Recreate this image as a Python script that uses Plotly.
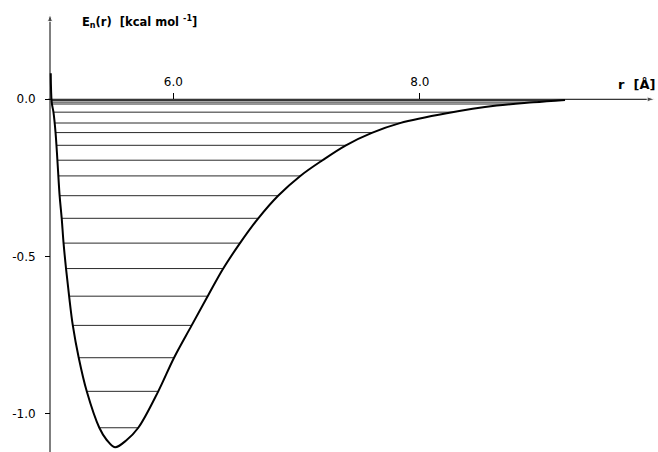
import numpy as np
import plotly.graph_objects as go

# Potential curve E(r): left (repulsive) branch and right (attractive) branch
left_r = [5.006, 5.014, 5.028, 5.045, 5.060, 5.078, 5.095, 5.110, 5.130, 5.155,
          5.185, 5.233, 5.298, 5.400, 5.460, 5.527]
left_E = [0.083, -0.010, -0.041, -0.106, -0.194, -0.307, -0.379, -0.458, -0.539, -0.627,
          -0.720, -0.823, -0.930, -1.046, -1.085, -1.108]
right_r = [5.527, 5.622, 5.716, 5.878, 6.006, 6.149, 6.279, 6.405, 6.541, 6.689,
           6.850, 7.030, 7.210, 7.400, 7.610, 7.838, 8.217, 8.623, 8.920, 9.177]
right_E = [-1.108, -1.085, -1.046, -0.930, -0.823, -0.720, -0.627, -0.539, -0.458, -0.379,
           -0.307, -0.244, -0.194, -0.1465, -0.107, -0.076, -0.0446, -0.020, -0.0096, -0.002]

# Vibrational energy levels E_n
levels = [-0.004, -0.009, -0.015, -0.041, -0.0755, -0.106, -0.1465, -0.194, -0.244,
          -0.307, -0.379, -0.458, -0.539, -0.627, -0.720, -0.823, -0.930, -1.046]

x_ticks = [6.0, 8.0]
x_tick_text = ["6.0", "8.0"]
y_ticks = [0.0, -0.5, -1.0]
y_tick_text = ["0.0", "-0.5", "-1.0"]

X_RANGE = [4.5945, 9.931]
Y_RANGE = [-1.1232, 0.3162]
R_AXIS = 5.0

curve_r = left_r + right_r[1:]
curve_E = left_E + right_E[1:]

# level endpoints from curve
lE = np.array(left_E[::-1]); lR = np.array(left_r[::-1])
rE = np.array(right_E); rR = np.array(right_r)
lx, ly = [], []
for e in levels:
    a = float(np.interp(e, lE, lR))
    b = float(np.interp(e, rE, rR))
    lx += [a, b, None]
    ly += [e, e, None]

FONT = "DejaVu Sans, Arial, sans-serif"

fig = go.Figure()
fig.add_trace(go.Scatter(x=lx, y=ly, mode="lines",
                         line=dict(color="#2a2a2a", width=1), hoverinfo="skip"))
fig.add_trace(go.Scatter(x=curve_r, y=curve_E, mode="lines",
                         line=dict(color="black", width=2, shape="spline", smoothing=1.0),
                         hoverinfo="skip"))

# axis lines with arrowheads
fig.add_trace(go.Scatter(x=[4.984, 9.905], y=[0, 0], mode="lines+markers",
                         line=dict(color="black", width=1),
                         marker=dict(symbol="arrow", size=[0, 8], angleref="previous",
                                     color="black"),
                         cliponaxis=False, hoverinfo="skip"))
fig.add_trace(go.Scatter(x=[R_AXIS, R_AXIS], y=[Y_RANGE[0], 0.272], mode="lines+markers",
                         line=dict(color="black", width=1),
                         marker=dict(symbol="arrow", size=[0, 8], angleref="previous",
                                     color="black"),
                         cliponaxis=False, hoverinfo="skip"))

W, H = 658, 452
ypos = (0 - Y_RANGE[0]) / (Y_RANGE[1] - Y_RANGE[0])
xpos = (R_AXIS - X_RANGE[0]) / (X_RANGE[1] - X_RANGE[0])

fig.update_layout(
    width=W, height=H,
    margin=dict(l=0, r=0, t=0, b=0, pad=0),
    paper_bgcolor="white", plot_bgcolor="white",
    showlegend=False,
    font=dict(family=FONT, size=12, color="black"),
    xaxis=dict(range=X_RANGE, showgrid=False, zeroline=False, showline=False,
               side="top", anchor="free", position=ypos,
               tickvals=x_ticks, ticktext=x_tick_text, ticks="outside",
               ticklen=6, tickwidth=1, tickcolor="black", ticklabelstandoff=2,
               tickfont=dict(family=FONT, size=12, color="black")),
    yaxis=dict(range=Y_RANGE, showgrid=False, zeroline=False, showline=False,
               side="left", anchor="free", position=xpos,
               tickvals=y_ticks, ticktext=y_tick_text, ticks="outside",
               ticklen=5, tickwidth=1, tickcolor="black", ticklabelstandoff=7,
               tickfont=dict(family=FONT, size=12, color="black")),
)

fig.add_annotation(x=139 / W, y=1 - 22 / H, xref="paper", yref="paper",
                   xanchor="center", yanchor="middle", showarrow=False,
                   text="<b>E<sub>n</sub>(r)\u00a0\u00a0[kcal mol <sup>-1</sup>]</b>",
                   font=dict(family=FONT, size=11.5, color="black"))
fig.add_annotation(x=657 / W, y=1 - 84 / H, xref="paper", yref="paper",
                   xanchor="right", yanchor="middle", showarrow=False,
                   text="<b>r\u00a0\u00a0[Å]</b>",
                   font=dict(family=FONT, size=13, color="black"))

fig.write_html("out.html", config={"displayModeBar": False},
               post_script="document.body.style.margin='0';document.body.style.padding='0';")
